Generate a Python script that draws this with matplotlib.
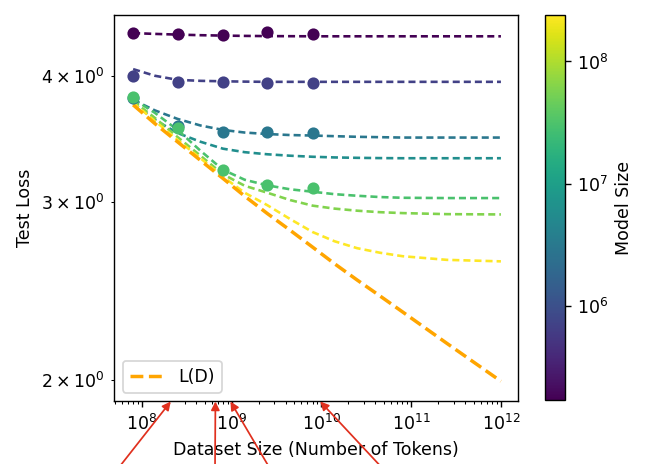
import matplotlib.pyplot as plt
from matplotlib.colors import LogNorm
from matplotlib.cm import ScalarMappable

# model sizes (parameters) of the seven fitted curves, smallest first
model_sizes = [1.7e5, 7e5, 3e6, 6e6, 3e7, 6e7, 2.4e8]

fit_tokens = [8e7, 1.4e8, 2.5e8, 4.5e8, 8e8, 1.4e9, 2.5e9, 4.5e9, 8e9,
              1.4e10, 2.5e10, 4.5e10, 8e10, 2.5e11, 1e12]
fit_170k = [4.411, 4.403, 4.396, 4.390, 4.386, 4.383, 4.381, 4.380, 4.379,
            4.379, 4.379, 4.379, 4.379, 4.379, 4.379]
fit_700k = [4.063, 4.002, 3.965, 3.956, 3.952, 3.949, 3.947, 3.947, 3.947,
            3.947, 3.947, 3.947, 3.947, 3.947, 3.947]
fit_3m = [3.788, 3.698, 3.627, 3.573, 3.537, 3.516, 3.504, 3.496, 3.492,
          3.487, 3.482, 3.479, 3.476, 3.476, 3.476]
fit_6m = [3.762, 3.619, 3.512, 3.443, 3.389, 3.362, 3.346, 3.335, 3.327,
          3.322, 3.319, 3.317, 3.316, 3.316, 3.316]
fit_30m = [3.796, 3.677, 3.537, 3.373, 3.230, 3.157, 3.117, 3.089, 3.072,
           3.055, 3.044, 3.035, 3.030, 3.028, 3.028]
fit_60m = [3.779, 3.635, 3.480, 3.335, 3.197, 3.114, 3.065, 3.014, 2.976,
           2.956, 2.942, 2.932, 2.926, 2.919, 2.917]
fit_240m = [3.762, 3.610, 3.457, 3.316, 3.179, 3.065, 2.979, 2.886, 2.802,
            2.744, 2.701, 2.673, 2.652, 2.630, 2.621]
fit_losses = [fit_170k, fit_700k, fit_3m, fit_6m, fit_30m, fit_60m, fit_240m]

# L(D) curve at the same dataset sizes
ld_loss = [3.745, 3.588, 3.442, 3.300, 3.167, 3.041, 2.923, 2.813, 2.707,
           2.607, 2.512, 2.422, 2.336, 2.174, 1.994]

# measured runs
run_tokens = [8e7, 2.5e8, 8e8, 2.5e9, 8e9]
run_sizes = [1.7e5, 7e5, 3e6, 3e7]
run_170k = [4.41, 4.40, 4.39, 4.42, 4.40]
run_700k = [4.00, 3.95, 3.945, 3.94, 3.94]
run_3m = [3.80, 3.57, 3.52, 3.52, 3.515]
run_30m = [3.81, 3.55, 3.23, 3.12, 3.10]
run_losses = [run_170k, run_700k, run_3m, run_30m]

# red arrows pasted over the screenshot, pointing at these token counts
arrow_tokens = [2.1e8, 6.6e8, 9.7e8, 9.7e9]
arrow_tails = [0.1815, 0.3308, 0.4154, 0.589]

norm = LogNorm(vmin=min(model_sizes), vmax=max(model_sizes))
cmap = plt.get_cmap('viridis')

fig = plt.figure(figsize=(5.2, 3.712), dpi=125)
ax = fig.add_axes([0.1754, 0.1347, 0.6215, 0.8336])
cax = fig.add_axes([0.8385, 0.138, 0.0308, 0.8297])

for n, loss in zip(model_sizes, fit_losses):
    ax.plot(fit_tokens, loss, linestyle=(0, (2.7, 1.55)), color=cmap(norm(n)))

for n, loss in zip(run_sizes, run_losses):
    ax.scatter(run_tokens, loss, color=cmap(norm(n)), s=36, zorder=3)

ax.plot(fit_tokens, ld_loss, '--', color='orange', lw=2, label='L(D)')

ax.set_xscale('log')
ax.set_yscale('log')
ax.set_xlim(10 ** 7.69, 10 ** 12.19)
ax.set_ylim(1.904, 4.60)
ax.set_xlabel('Dataset Size (Number of Tokens)')
ax.set_ylabel('Test Loss')
ax.legend(loc='lower left')

cbar = fig.colorbar(ScalarMappable(norm=norm, cmap=cmap), cax=cax)
cbar.set_label('Model Size')
cbar.minorticks_off()

for x, tail in zip(arrow_tokens, arrow_tails):
    ax.annotate('', xy=(x, 0), xycoords=('data', 'axes fraction'),
                xytext=(tail, -0.01), textcoords='figure fraction',
                annotation_clip=False,
                arrowprops=dict(arrowstyle='-|>', color='#e0301e', lw=1.0,
                                mutation_scale=10, shrinkA=0, shrinkB=0))

fig.savefig('out.png', dpi=125)
